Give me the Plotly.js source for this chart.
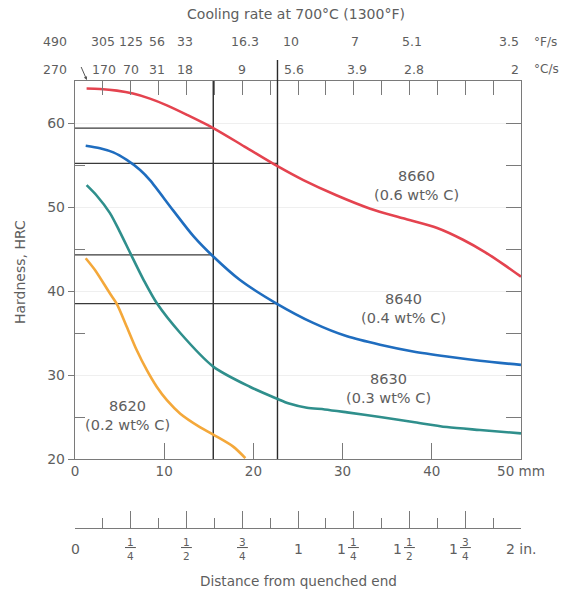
<!DOCTYPE html>
<html><head><meta charset="utf-8">
<script src="https://cdn.plot.ly/plotly-3.0.1.min.js"></script>
<style>html,body{margin:0;padding:0;background:#fff}</style>
</head><body><div id="chart" style="width:567px;height:592px"></div>
<script>
// ---- data (distance from quenched end, mm ; hardness, HRC) ----
const dist8660 = [1.3, 2.8, 4.7, 6.5, 8.4, 10.3, 12.5, 15.5, 19, 22.8, 25.6, 29.3, 33.1, 36.8, 40.6, 43.5, 46, 48, 50];
const hrc8660  = [64.1, 64.05, 63.85, 63.5, 62.9, 62.1, 61.0, 59.4, 57.2, 54.8, 53.2, 51.4, 49.8, 48.65, 47.5, 46.1, 44.6, 43.2, 41.7];
const dist8640 = [1.2, 2.8, 4.3, 5.8, 7.3, 8.4, 11, 13.3, 15.5, 18.5, 22.6, 26.7, 30.5, 34.2, 37.9, 41.7, 45.4, 50];
const hrc8640  = [57.3, 57.0, 56.5, 55.6, 54.4, 53.2, 49.6, 46.5, 44.1, 41.3, 38.5, 36.2, 34.6, 33.6, 32.8, 32.2, 31.7, 31.2];
const dist8630 = [1.3, 2.4, 3.9, 5.0, 6.2, 7.7, 9.2, 11.8, 15.5, 19.6, 22.6, 24, 26, 28, 30.5, 34.2, 37.9, 41.7, 45.4, 50];
const hrc8630  = [52.6, 51.4, 49.3, 47.1, 44.5, 41.3, 38.5, 35.0, 31.0, 28.6, 27.2, 26.6, 26.1, 25.9, 25.55, 25.0, 24.4, 23.8, 23.45, 23.05];
const dist8620 = [1.2, 2.24, 3.92, 4.67, 5.8, 6.9, 8.04, 9.16, 10.3, 11.8, 14.0, 15.5, 17.7, 19.1];
const hrc8620  = [43.9, 42.5, 39.7, 38.5, 35.75, 33.0, 30.6, 28.6, 27.0, 25.4, 23.8, 22.9, 21.5, 20.1];

const steelNames   = ['8660', '8640', '8630', '8620'];
const carbonLabels = ['(0.6 wt% C)', '(0.4 wt% C)', '(0.3 wt% C)', '(0.2 wt% C)'];
const labelDist    = [38.3, 36.8, 35.1, 5.9];
const labelHrc     = [52.6, 37.9, 28.4, 25.2];
const curveColors  = ['#e4434f', '#1f6dbf', '#2f8f8c', '#f4a83a'];

// reference lines (distance mm, hardness HRC)
const refDist      = [15.5, 22.7];
const refHrcA      = [59.4, 44.3];   // read at first distance
const refHrcB      = [55.2, 38.5];   // read at second distance
const refTopExt    = 23;             // px the second line rises above the frame

// axes
const hrcRange     = [20, 65];
const mmRange      = [0, 50];
const inchRange    = [0, 2];
const mmTickVals   = [0, 10, 20, 30, 40, 50];
const mmTickText   = ['0', '10', '20', '30', '40', '50 mm'];
const hrcTickVals  = [20, 30, 40, 50, 60];
const hrcMinorVals = [25, 35, 45, 55];
const hrcRightVals = [25, 30, 35, 40, 45, 50, 55, 60];
const inchMajor    = [0, 0.25, 0.5, 0.75, 1, 1.25, 1.5, 1.75, 2];
const inchMinor    = [0.125, 0.375, 0.625, 0.875, 1.125, 1.375, 1.625, 1.875];
const inchWhole    = ['0', '', '', '', '1', '1', '1', '1', '2 in.'];
const inchNum      = ['', '1', '1', '3', '', '1', '1', '3', ''];
const inchDen      = ['', '4', '2', '4', '', '4', '2', '4', ''];

// cooling rate at 700 C, positions on the inch scale
const coolPosF = [-0.09, 0.125, 0.25, 0.366, 0.493, 0.762, 0.97, 1.255, 1.51, 2.0];
const coolF    = ['490', '305', '125', '56', '33', '16.3', '10', '7', '5.1', '3.5'];
const coolPosC = [-0.09, 0.13, 0.252, 0.366, 0.493, 0.751, 0.98, 1.265, 1.52, 2.0];
const coolC    = ['270', '170', '70', '31', '18', '9', '5.6', '3.9', '2.8', '2'];
const unitPos  = 2.05;

const FONT = 'DejaVu Sans, Verdana, sans-serif';
const TXT = '#5e5e5e';
const AX = '#7a7a7a';
// inch scale spans the same frame as the x axis domain [0,1]
const inchToDomain = v => (v - inchRange[0]) / (inchRange[1] - inchRange[0]);

const traces = [];
refDist.forEach(d => {
  traces.push({x: [d, d], y: hrcRange, mode: 'lines', line: {color: '#2a2a2a', width: 1.4},
    hoverinfo: 'skip', showlegend: false});
});
[refHrcA, refHrcB].forEach((arr, j) => {
  arr.forEach(h => {
    traces.push({x: [0, refDist[j]], y: [h, h], mode: 'lines', line: {color: '#3a3a3a', width: 1.2},
      hoverinfo: 'skip', showlegend: false});
  });
});
const dists = [dist8660, dist8640, dist8630, dist8620];
const hrcs = [hrc8660, hrc8640, hrc8630, hrc8620];
dists.forEach((d, i) => {
  traces.push({x: d, y: hrcs[i], mode: 'lines', name: steelNames[i],
    line: {color: curveColors[i], width: 2.6, shape: 'spline', smoothing: 0.8},
    showlegend: false});
});
traces.push({x: inchRange, y: [20, 20], xaxis: 'x2', yaxis: 'y', mode: 'markers',
  marker: {opacity: 0}, hoverinfo: 'skip', showlegend: false});
traces.push({x: inchRange, y: [20, 20], xaxis: 'x3', yaxis: 'y', mode: 'markers',
  marker: {opacity: 0}, hoverinfo: 'skip', showlegend: false});
traces.push({x: mmRange, y: [20, 20], xaxis: 'x', yaxis: 'y2', mode: 'markers',
  marker: {opacity: 0}, hoverinfo: 'skip', showlegend: false});

const ann = [];
steelNames.forEach((n, i) => {
  ann.push({xref: 'x', yref: 'y', x: labelDist[i], y: labelHrc[i], showarrow: false,
    xanchor: 'center', yanchor: 'middle',
    text: n + '<br>' + carbonLabels[i], font: {family: FONT, size: 14.5, color: TXT}});
});
const rowF = 1.0879, rowC = 1.0262;
function coolRow(vals, pos, row) {
  vals.forEach((t, i) => {
    ann.push({xref: 'paper', yref: 'paper', x: inchToDomain(pos[i]), y: row, showarrow: false, text: t,
      xanchor: i === vals.length - 1 ? 'right' : 'center', yanchor: 'middle',
      font: {family: FONT, size: 12.5, color: TXT}});
  });
}
coolRow(coolF, coolPosF, rowF);
coolRow(coolC, coolPosC, rowC);
ann.push({xref: 'paper', yref: 'paper', x: inchToDomain(unitPos), y: rowF, showarrow: false, text: '°F/s',
  xanchor: 'left', yanchor: 'middle', font: {family: FONT, size: 12, color: TXT}});
ann.push({xref: 'paper', yref: 'paper', x: inchToDomain(unitPos), y: rowC, showarrow: false, text: '°C/s',
  xanchor: 'left', yanchor: 'middle', font: {family: FONT, size: 12, color: TXT}});
ann.push({xref: 'x3', yref: 'paper', x: 0.055, y: 1.0, showarrow: true, text: ' ',
  font: {size: 1}, ax: -7, ay: -16, arrowhead: 2, arrowsize: 0.7, arrowwidth: 1,
  arrowcolor: '#555', standoff: 1});
ann.push({xref: 'x', yref: 'y', x: refDist[1], y: hrcRange[1], showarrow: true, text: ' ',
  font: {size: 1}, ax: 0, ay: -refTopExt, arrowhead: 0, arrowwidth: 1.4, arrowcolor: '#2a2a2a'});
const inchRow = -0.047;
inchMajor.forEach((v, i) => {
  if (inchNum[i]) {
    ann.push({xref: 'x2', yref: 'paper', x: v, y: inchRow, showarrow: false,
      xanchor: 'center', yanchor: 'middle',
      text: '<u>\u2009' + inchNum[i] + '\u2009</u><br>' + inchDen[i],
      font: {family: FONT, size: 10.5, color: TXT}});
  }
  if (inchWhole[i]) {
    ann.push({xref: 'x2', yref: 'paper', x: v, y: inchRow, showarrow: false,
      xanchor: 'center', yanchor: 'middle',
      text: inchWhole[i], xshift: inchNum[i] ? -12 : 0,
      font: {family: FONT, size: 14, color: TXT}});
  }
});
ann.push({xref: 'paper', yref: 'paper', x: 0.5, y: -0.1186, showarrow: false,
  xanchor: 'center', yanchor: 'middle',
  text: 'Distance from quenched end', font: {family: FONT, size: 13.6, color: TXT}});
ann.push({xref: 'paper', yref: 'paper', x: -0.1233, y: 0.5727, showarrow: false, textangle: -90,
  xanchor: 'center', yanchor: 'middle',
  text: 'Hardness, HRC', font: {family: FONT, size: 14, color: TXT}});

const layout = {
  width: 567, height: 592,
  margin: {l: 75, r: 46, t: 81, b: 64, pad: 0},
  paper_bgcolor: '#fff', plot_bgcolor: 'rgba(0,0,0,0)',
  font: {family: FONT, color: TXT},
  title: {text: 'Cooling rate at 700°C (1300°F)', xref: 'paper', x: 0.4955, xanchor: 'center',
    yref: 'container', y: 0.976, yanchor: 'middle', font: {family: FONT, size: 14, color: TXT}},
  xaxis: {range: mmRange, domain: [0, 1], anchor: 'y', showline: true, mirror: true,
    linecolor: AX, linewidth: 1.2, tickvals: mmTickVals, ticktext: mmTickText,
    ticks: 'inside', ticklen: 16, tickcolor: AX, tickwidth: 1, showgrid: false, zeroline: false,
    tickfont: {family: FONT, size: 13.5, color: TXT}},
  yaxis: {range: hrcRange, domain: [0.15436, 1], anchor: 'x', showline: true, mirror: true,
    linecolor: AX, linewidth: 1.2, tickvals: hrcTickVals, ticks: 'outside', ticklen: 6,
    tickcolor: AX, tickwidth: 1, showgrid: true, gridcolor: '#efefef', zeroline: false,
    minor: {tickvals: hrcMinorVals, ticks: 'inside', ticklen: 10, tickcolor: AX, showgrid: false},
    tickfont: {family: FONT, size: 14, color: TXT}},
  yaxis2: {range: hrcRange, domain: [0.15436, 1], overlaying: 'y', side: 'right', anchor: 'x',
    tickvals: hrcRightVals, ticks: 'inside', ticklen: 15, tickcolor: AX, tickwidth: 1,
    showticklabels: false, showline: false, showgrid: false, zeroline: false},
  xaxis3: {range: inchRange, domain: [0, 1], overlaying: 'x', side: 'top', anchor: 'y',
    tickvals: inchMinor.concat(inchMajor.slice(1, -1)), ticks: 'inside', ticklen: 14,
    tickcolor: AX, tickwidth: 1, showticklabels: false, showline: false, showgrid: false, zeroline: false},
  xaxis2: {range: inchRange, domain: [0, 1], overlaying: 'x', anchor: 'free', position: 0, side: 'bottom',
    showline: true, linecolor: AX, linewidth: 1.2, tickvals: inchMajor, ticks: 'inside', ticklen: 17,
    tickcolor: AX, tickwidth: 1, showticklabels: false, showgrid: false, zeroline: false,
    minor: {tickvals: inchMinor, ticks: 'inside', ticklen: 10, tickcolor: AX, showgrid: false}},
  annotations: ann,
  showlegend: false
};

Plotly.newPlot('chart', traces, layout, {displayModeBar: false, staticPlot: true});
</script></body></html>
